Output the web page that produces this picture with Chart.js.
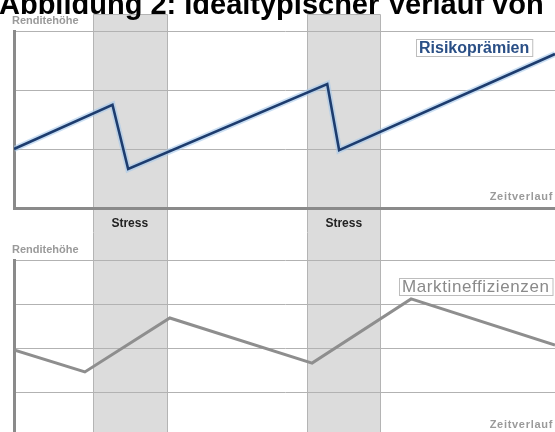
<!DOCTYPE html>
<html>
<head>
<meta charset="utf-8">
<script src="https://cdn.jsdelivr.net/npm/chart.js@4.4.1/dist/chart.umd.min.js"></script>
<style>
  html, body { margin: 0; padding: 0; background: #fff; overflow: hidden; }
  body { width: 555px; height: 432px; position: relative; }
  #title {
    position: absolute; left: -1px; top: -10px; z-index: 5;
    font: bold 29px "Liberation Sans", Arial, sans-serif; line-height: 29px;
    color: #000; white-space: nowrap;
  }
  .panel { position: absolute; left: 0; width: 555px; }
  #top { top: 0; height: 232px; }
  #bottom { top: 232px; height: 215px; }
</style>
</head>
<body>
<div id="title">Abbildung 2: Idealtypischer Verlauf von</div>
<div class="panel" id="top"><canvas id="riskChart"></canvas></div>
<div class="panel" id="bottom"><canvas id="ineffChart"></canvas></div>

<script>
// Zeitachse 0..100, Stressphasen als Zeitintervalle
const stressStart = [14.6, 54.2];
const stressEnd = [28.2, 67.7];
const stressLabels = ['Stress', 'Stress'];

// Risikoprämien (oberes Diagramm)
const riskTime = [0, 18.2, 21.1, 57.9, 60.1, 100];
const riskValue = [1.0, 1.75, 0.66, 2.1, 0.98, 2.61];

// Marktineffizienzen (unteres Diagramm)
const ineffTime = [0, 13.1, 28.8, 55.1, 73.4, 100];
const ineffValue = [1.97, 1.47, 2.69, 1.67, 3.12, 2.08];

const yTicksTop = [0, 1, 2, 3];
const yTicksBottom = [0, 1, 2, 3, 4];

function toPoints(xs, ys) {
    return xs.map((x, i) => ({ x: x, y: ys[i] }));
}

// graue Stressbalken hinter Gitter und Linien
const stressBands = {
    id: 'stressBands',
    beforeDraw(chart, args, opts) {
        const ctx = chart.ctx;
        const xs = chart.scales.x;
        const top = opts.top === null ? 0 : chart.chartArea.top - opts.top;
        ctx.save();
        for (let i = 0; i < stressStart.length; i++) {
            const x1 = Math.round(xs.getPixelForValue(stressStart[i]));
            const x2 = Math.round(xs.getPixelForValue(stressEnd[i]));
            ctx.fillStyle = '#dcdcdc';
            ctx.fillRect(x1, top, x2 - x1, chart.height - top);
            ctx.strokeStyle = '#b4b4b4';
            ctx.lineWidth = 1;
            ctx.beginPath();
            ctx.moveTo(x1 + 0.5, chart.height);
            ctx.lineTo(x1 + 0.5, top + 0.5);
            if (opts.top !== null) ctx.lineTo(x2 + 0.5, top + 0.5);
            else ctx.moveTo(x2 + 0.5, top);
            ctx.lineTo(x2 + 0.5, chart.height);
            ctx.stroke();
        }
        ctx.restore();
    }
};

// Beschriftungen: Achsentitel, Stress, Serienname im Kasten
const panelLabels = {
    id: 'panelLabels',
    afterDraw(chart, args, opts) {
        const ctx = chart.ctx;
        const a = chart.chartArea;
        ctx.save();
        ctx.textBaseline = 'alphabetic';

        ctx.fillStyle = '#9a9a9a';
        ctx.font = 'bold 11px "Liberation Sans", Arial, sans-serif';
        ctx.textAlign = 'left';
        ctx.fillText('Renditehöhe', 12, a.top - 7);

        ctx.font = 'bold 11px "Liberation Sans", Arial, sans-serif';
        ctx.textAlign = 'right';
        ctx.letterSpacing = '0.7px';
        ctx.fillText('Zeitverlauf', opts.zeitX, opts.zeitY);
        ctx.letterSpacing = '0px';

        if (opts.stress) {
            ctx.fillStyle = '#222';
            ctx.font = 'bold 12px "Liberation Sans", Arial, sans-serif';
            ctx.textAlign = 'center';
            const xs = chart.scales.x;
            for (let i = 0; i < stressStart.length; i++) {
                const cx = (xs.getPixelForValue(stressStart[i]) + xs.getPixelForValue(stressEnd[i])) / 2;
                ctx.fillText(stressLabels[i], cx, a.bottom + 19);
            }
        }

        const b = opts.box;
        ctx.font = b.font;
        ctx.letterSpacing = b.spacing;
        ctx.textAlign = 'left';
        const w = ctx.measureText(b.text).width;
        ctx.fillStyle = '#fff';
        ctx.fillRect(b.x, b.y, w + 6, b.h);
        ctx.strokeStyle = '#bdbdbd';
        ctx.lineWidth = 1;
        ctx.strokeRect(b.x + 0.5, b.y + 0.5, w + 6, b.h);
        ctx.fillStyle = b.color;
        ctx.fillText(b.text, b.x + 3, b.y + b.h - 3);
        ctx.restore();
    }
};

function makeScales(ymax, ticks) {
    return {
        x: {
            type: 'linear', min: 0, max: 100,
            grid: { display: false },
            ticks: { display: false },
            border: { display: true, color: '#8a8a8a', width: 3 },
            afterFit: (s) => { s.height = 0; }
        },
        y: {
            type: 'linear', min: 0, max: ymax,
            afterBuildTicks: (s) => { s.ticks = ticks.map(v => ({ value: v })); },
            grid: { color: '#b2b2b2', lineWidth: 1, drawTicks: false },
            ticks: { display: false },
            border: { display: true, color: '#8a8a8a', width: 3 },
            afterFit: (s) => { s.width = 0; }
        }
    };
}

new Chart(document.getElementById('riskChart').getContext('2d'), {
    type: 'line',
    data: {
        datasets: [
            {
                data: toPoints(riskTime, riskValue),
                borderColor: '#1d3c6e',
                borderWidth: 2.6,
                borderJoinStyle: 'miter',
                pointRadius: 0,
                tension: 0
            },
            {
                // heller Schein um die blaue Linie
                data: toPoints(riskTime, riskValue),
                borderColor: 'rgba(165, 200, 235, 0.6)',
                borderWidth: 6,
                borderJoinStyle: 'miter',
                pointRadius: 0,
                tension: 0
            }
        ]
    },
    options: {
        responsive: true,
        maintainAspectRatio: false,
        animation: false,
        layout: { padding: { left: 14, right: 0, top: 31, bottom: 24 } },
        scales: makeScales(3, yTicksTop),
        plugins: {
            legend: { display: false },
            tooltip: { enabled: false },
            stressBands: { top: 17 },
            panelLabels: {
                stress: true,
                zeitX: 553, zeitY: 200,
                box: { text: 'Risikoprämien', x: 416, y: 39, h: 17, color: '#2a4f86', spacing: '0px',
                       font: 'bold 16px "Liberation Sans", Arial, sans-serif' }
            }
        }
    },
    plugins: [stressBands, panelLabels]
});

new Chart(document.getElementById('ineffChart').getContext('2d'), {
    type: 'line',
    data: {
        datasets: [{
            data: toPoints(ineffTime, ineffValue),
            borderColor: '#8e8e8e',
            borderWidth: 3,
            borderJoinStyle: 'miter',
            pointRadius: 0,
            tension: 0
        }]
    },
    options: {
        responsive: true,
        maintainAspectRatio: false,
        animation: false,
        layout: { padding: { left: 14, right: 0, top: 28, bottom: 10 } },
        scales: makeScales(4, yTicksBottom),
        plugins: {
            legend: { display: false },
            tooltip: { enabled: false },
            stressBands: { top: null },
            panelLabels: {
                stress: false,
                zeitX: 553, zeitY: 196,
                box: { text: 'Marktineffizienzen', x: 399, y: 46, h: 17, color: '#8a8a8a', spacing: '0.6px',
                       font: '17px "Liberation Sans", Arial, sans-serif' }
            }
        }
    },
    plugins: [stressBands, panelLabels]
});
</script>
</body>
</html>
